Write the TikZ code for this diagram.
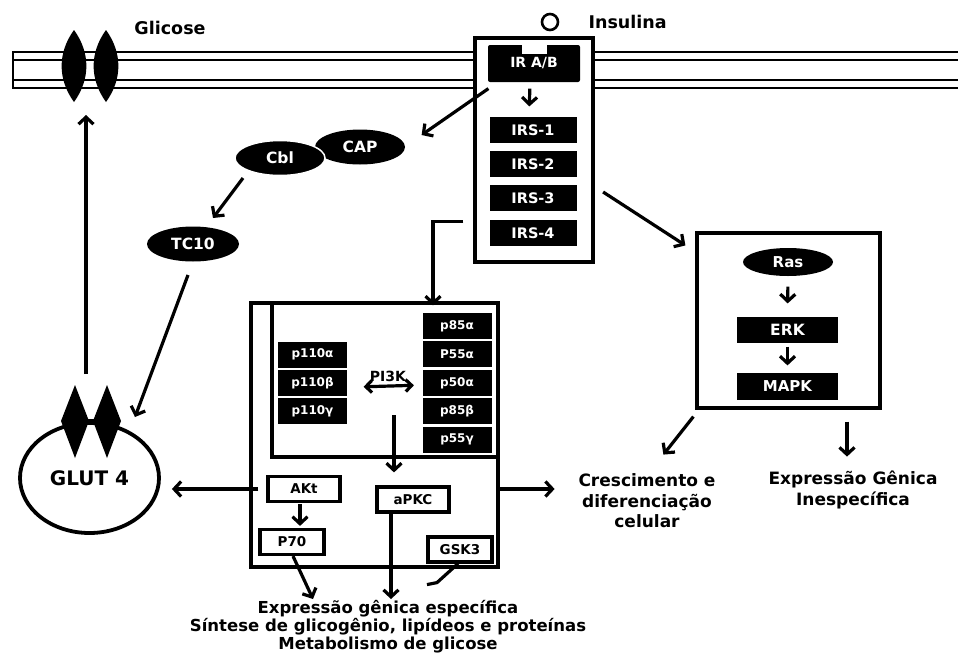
\documentclass[tikz,border=0pt]{standalone}
\usepackage{fontspec}
\setmainfont{DejaVu Sans}
\usetikzlibrary{positioning, arrows.meta, shapes.geometric, calc}

\begin{document}
\begin{tikzpicture}[x=1pt,y=-1pt,font=\bfseries,line width=3.2pt,
  arr/.style={-{Straight Barb[length=7pt,width=15pt]}},
  dbl/.style={{Straight Barb[length=6pt,width=12pt]}-{Straight Barb[length=6pt,width=12pt]}},
  panel/.style={draw,fill=white,inner sep=0pt},
  blackbox/.style={fill=black,text=white,minimum width=87pt,minimum height=26pt,inner sep=0pt,font=\fontsize{14.5}{16}\selectfont\bfseries},
  subunit/.style={fill=black,text=white,minimum width=69pt,minimum height=26pt,inner sep=0pt,font=\fontsize{12}{13}\selectfont\bfseries},
  blob/.style={ellipse,fill=black,text=white,minimum width=90pt,minimum height=35pt,inner sep=0pt,font=\fontsize{15.5}{17}\selectfont\bfseries},
  kinase/.style={draw,fill=white,minimum height=25pt,inner sep=0pt,font=\fontsize{13.5}{15}\selectfont\bfseries},
  caption/.style={align=center,inner sep=0pt,font=\fontsize{17}{20.5}\selectfont\bfseries},
  lens/.style={fill=black}]

\useasboundingbox (0,0) rectangle (958,656);

% Membrane
\draw[line width=2.8pt] (958,52) -- (13,52) -- (13,88) -- (958,88);
\draw[line width=2.8pt] (13,60) -- (958,60);
\draw[line width=2.8pt] (13,80) -- (958,80);
\foreach \x in {74,106}
  \fill[lens] (\x,30) to[bend left=36] (\x,102) to[bend left=36] (\x,30);
\node[caption,font=\fontsize{17.5}{20}\selectfont\bfseries] (glic) at (170,28) {Glicose};

% Receptor
\node[panel,minimum width=118pt,minimum height=224pt] (recbox) at (534,150) {};
\node[fill=black,text=white,minimum width=92pt,minimum height=37pt,rounded corners=2pt,inner sep=0pt,
      font=\fontsize{14}{15}\selectfont\bfseries] (ir) at (534,63.5) {\raisebox{-8pt}{IR A/B}};
\fill[white] ($(ir.north)+(-12.5,-1)$) rectangle ($(ir.north)+(12.5,11)$);
\node[circle,draw,minimum size=16pt,inner sep=0pt,line width=2.6pt] (ins) at (550,22) {};
\node[caption,font=\fontsize{17.5}{20}\selectfont\bfseries,right=37pt of ins.center,anchor=west] (insl) {Insulina};
\foreach \i/\y in {1/130,2/164,3/198,4/233}
  \node[blackbox] (irs\i) at (533,\y) {IRS-\i};

% Cbl / CAP / TC10
\node[blob] (cap) at (360,147) {CAP};
\node[blob,draw=white,line width=1.5pt] (cbl) at (280,158) {Cbl};
\node[blob,minimum width=92pt] (tc) at (193,244) {TC10};

% GLUT 4 vesicle
\node[ellipse,draw,minimum width=139pt,minimum height=110pt,line width=3.8pt,
      font=\fontsize{20}{22}\selectfont\bfseries] (glut) at (89.5,478) {\raisebox{-2pt}{GLUT 4}};
\draw (75,421) -- (107,421);
\foreach \x in {75,107}
  \fill[lens] (\x,385) -- (\x+14,421) -- (\x,458) -- (\x-14,421) -- cycle;
\coordinate (mem) at (86,115);

% PI3K pathway
\node[panel,minimum width=247pt,minimum height=264pt] (pbox) at (374.5,435) {};
\node[draw,minimum width=226pt,minimum height=154pt,inner sep=0pt] (pin) at (385,380) {};
\foreach \n/\t [count=\i from 0] in {p85a/p85α,p55a/P55α,p50a/p50α,p85b/p85β,p55g/p55γ}
  \node[subunit] (\n) at (457,{326+28.4*\i}) {\t};
\foreach \n/\t [count=\i from 0] in {p110a/p110α,p110b/p110β,p110g/p110γ}
  \node[subunit] (\n) at (312.5,{354.5+28.3*\i}) {\t};
\node[font=\fontsize{14}{15}\selectfont\bfseries,inner sep=0pt] (pi3k) at (388,376) {PI3K};
\coordinate (pidown) at (394,415);
\node[kinase,minimum width=72pt] (akt) at (304,489) {AKt};
\node[kinase,minimum width=64pt] (p70) at (292,542) {P70};
\node[kinase,minimum width=72pt] (apkc) at (413,499.5) {aPKC};
\node[kinase,minimum width=64pt] (gsk) at (460,549.5) {GSK3};

% MAPK pathway
\node[panel,minimum width=183pt,minimum height=175pt] (rasbox) at (788.5,320.5) {};
\node[blob,minimum height=28pt,font=\fontsize{15}{17}\selectfont\bfseries] (ras) at (788,262) {Ras};
\node[blackbox,minimum width=101pt,font=\fontsize{15.5}{17}\selectfont\bfseries] (erk) at (787.5,330) {ERK};
\node[blackbox,minimum width=101pt,minimum height=27pt,font=\fontsize{15}{17}\selectfont\bfseries] (mapk) at (787.5,386.5) {MAPK};

% Outcomes
\node[caption] (cresc) at (647,501) {Crescimento e\\diferenciação\\celular};
\node[caption] (expin) at (853,490) {Expressão Gênica\\Inespecífica};
\node[caption,font=\fontsize{16.5}{18}\selectfont\bfseries] (expesp) at (388,627)
  {Expressão gênica específica\\Síntese de glicogênio, lipídeos e proteínas\\Metabolismo de glicose};

% Arrows
\draw[arr] ($(glut)+(-3.5,-104)$) -- (mem);
\draw[arr] ($(ir.south west)+(2,5)$) -- ($(cap.east)+(15,-12)$);
\draw[arr,shorten <=5pt,shorten >=9pt] ([xshift=-4pt]ir.south) -- ([xshift=-4pt]irs1.north);
\draw[arr] ($(cbl)+(-37,20)$) -- ($(tc)+(20,-26)$);
\draw[arr] ($(tc)+(-5,31)$) -- ($(glut)+(45.5,-61)$);
\draw[arr] ($(recbox.south west)+(-10,-42)$) -| ($(pbox.north)+(58.5,4)$);
\draw[arr] ($(irs3.east)+(25,-6)$) -- ($(rasbox.north west)+(-10,14)$);
\draw[arr,shorten <=9pt,shorten >=12pt] (ras.south) -- (erk.north);
\draw[arr,shorten <=2pt,shorten >=6pt] (erk.south) -- (mapk.north);
\draw[arr] ($(rasbox.south west)+(-2,7)$) -- ($(rasbox.south west)+(-32,45)$);
\draw[arr] ($(rasbox.south)+(58.5,12)$) -- ++(0,35);
\draw[dbl] ($(p110b.east)+(15,4)$) -- ($(p50a.west)+(-7,2.5)$);
\draw[arr,shorten >=13pt] (pidown) -- (pidown |- apkc.north);
\draw[arr,shorten <=1pt,shorten >=2pt] ([xshift=-4pt]akt.south) -- ([xshift=8pt]p70.north);
\draw[arr,shorten >=11pt] ([xshift=-8pt]akt.west) -- (glut.east |- akt.west);
\draw[arr] (pbox.east |- akt.west) -- ++(55,0);
\draw[arr] ([xshift=1pt]p70.south) -- ($(expesp.north)+(-75,0)$);
\draw[arr] ([xshift=-22pt]apkc.south) -- ($(expesp.north)+(3,0)$);
\draw ([xshift=-2pt]gsk.south) -- ++(-21,19) -- ++(-10,2);

\end{tikzpicture}
\end{document}
